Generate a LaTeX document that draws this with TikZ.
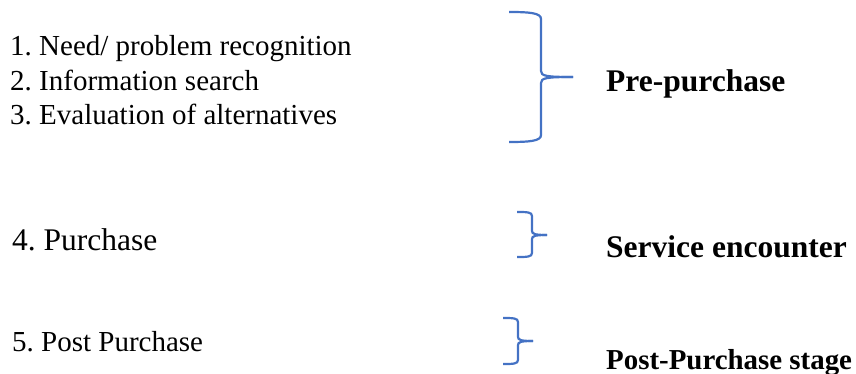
\documentclass[tikz,border=0pt]{standalone}
\usepackage{fontspec}
\setmainfont{Liberation Serif}
\definecolor{braceblue}{HTML}{4472C4}
\begin{document}
\frenchspacing
\begin{tikzpicture}[x=1pt,y=-1pt,
  item/.style={anchor=base west,inner sep=0pt,font=\fontsize{29}{35}\selectfont},
  itembig/.style={anchor=base west,inner sep=0pt,font=\fontsize{31.5}{38}\selectfont},
  stage/.style={anchor=base west,inner sep=0pt,font=\fontsize{31.5}{38}\selectfont\bfseries},
  stagesmall/.style={anchor=base west,inner sep=0pt,font=\fontsize{28.9}{35}\selectfont\bfseries},
  bracestroke/.style={draw=braceblue,line width=2.2pt}]
\useasboundingbox (0,0) rectangle (856,374);

% list items
\node[item] (i1) at (10,56) {1. Need/ problem recognition};
\node[item] (i2) at (10,91) {2. Information search};
\node[item] (i3) at (10,125) {3. Evaluation of alternatives};
\node[itembig] (i4) at (12,250) {4. Purchase};
\node[item] (i5) at (12,351) {5. Post Purchase};

% stage labels
\node[stage] (s1) at (606,92) {Pre-purchase};
\node[stage] (s2) at (606,257) {Service encounter};
\node[stagesmall] (s3) at (606,369) {Post-Purchase stage};

% brace 1
\draw[bracestroke] (509,12) .. controls (530,12) and (541,13) .. (541,19)
  -- (541,71) .. controls (541,76) and (546,77) .. (573,77);
\draw[bracestroke] (509,142) .. controls (530,142) and (541,141) .. (541,135)
  -- (541,83) .. controls (541,78) and (546,77) .. (573,77);

% brace 2
\draw[bracestroke] (517,212) .. controls (527,212) and (532,212) .. (532,216)
  -- (532,231) .. controls (532,234) and (535,235) .. (547,235);
\draw[bracestroke] (517,257) .. controls (527,257) and (532,257) .. (532,253)
  -- (532,239) .. controls (532,236) and (535,235) .. (547,235);

% brace 3
\draw[bracestroke] (503,318) .. controls (513,318) and (518,318) .. (518,322)
  -- (518,337) .. controls (518,340) and (521,341) .. (533,341);
\draw[bracestroke] (503,364) .. controls (513,364) and (518,364) .. (518,360)
  -- (518,345) .. controls (518,342) and (521,341) .. (533,341);
\end{tikzpicture}
\end{document}
